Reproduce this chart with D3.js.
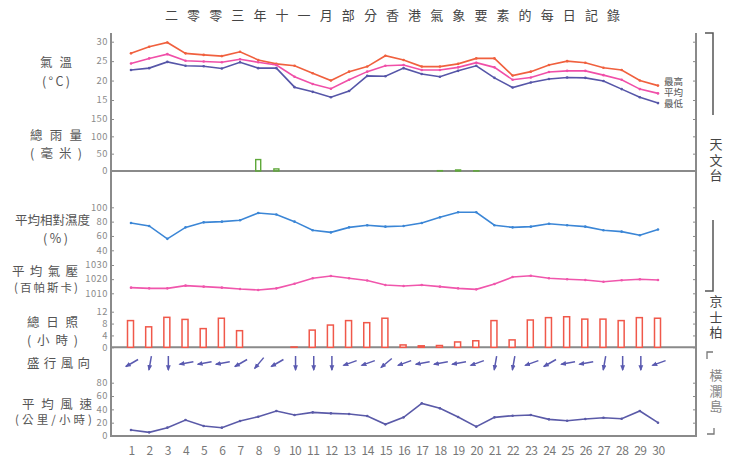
<!DOCTYPE html>
<html><head><meta charset="utf-8">
<script src="https://cdn.jsdelivr.net/npm/d3@7"></script>
<style>
html,body{margin:0;padding:0;background:#fff;}
svg{display:block;}
text{font-family:"Noto Sans CJK TC","Noto Sans",sans-serif;}
</style></head>
<body>
<div id="chart"></div>
<script>
// ---------------- DATA ----------------
const days = d3.range(1, 31);
const tempMax  = [27.0,28.7,29.8,27.0,26.6,26.3,27.4,25.3,24.3,23.8,21.9,20.0,22.3,23.6,26.4,25.3,23.6,23.6,24.3,25.7,25.7,21.3,22.3,24.0,25.0,24.6,23.3,22.7,20.0,18.7];
const tempMean = [24.4,25.7,26.8,25.1,24.9,24.7,25.5,24.7,24.0,21.0,19.1,17.9,20.2,22.3,23.8,24.0,22.7,22.7,23.4,24.6,23.4,20.2,20.8,22.2,22.5,22.5,21.4,20.2,17.8,16.7];
const tempMin  = [22.7,23.2,24.8,23.8,23.7,23.1,24.7,23.2,23.2,18.3,17.1,15.7,17.3,21.2,21.1,23.2,21.7,21.0,22.5,23.8,20.7,18.2,19.5,20.4,20.8,20.7,19.9,17.8,15.7,14.2];
const rainfall = [0,0,0,0,0,0,0,33,6,0,0,0,0,0,0,0,0,1,3,0.5,0,0,0,0,0,0,0,0,0,0];
const humidity = [78,74,56,72,79,80,82,92,90,80,68,65,72,75,73,74,78,86,93,93,75,72,73,77,75,73,68,66,61,69];
const pressure = [1014,1013.5,1013.5,1015.4,1014.7,1014,1013,1012.3,1013.5,1016.8,1020.6,1022.2,1020.6,1019,1015.9,1015.2,1015.9,1014.7,1013.5,1012.8,1016.6,1021.5,1022.4,1020.6,1019.9,1019.4,1018.2,1019.2,1019.9,1019.4];
const sunshine = [9.0,6.9,10.1,9.4,6.3,9.8,5.6,0,0,0.1,5.8,7.5,9.0,8.3,9.8,0.8,0.5,0.6,1.8,2.2,9.0,2.5,9.2,10.0,10.3,9.5,9.5,9.0,10.0,9.8];
const windDir  = [60,10,360,80,80,80,60,40,60,360,360,360,70,70,50,70,80,80,80,70,10,10,70,60,80,80,10,360,360,70];
const windSpeed= [9,5.5,12.5,24,15,12.5,22.5,29,37.5,31.5,35.5,34,33,30,17.5,28,49,41.5,28.5,14,28,30.5,31.5,25,23,25.5,27.5,26,37.5,20];

const tempTicks = [15,20,25,30];
const rainTicks = [0,50,100,150];
const humTicks  = [40,60,80,100];
const presTicks = [1010,1020,1030];
const sunTicks  = [0,4,8,12];
const windTicks = [0,20,40,60,80];

const title = "二零零三年十一月部分香港氣象要素的每日記錄";

// ---------------- LAYOUT ----------------
const W = 734, H = 464;
const svg = d3.select("#chart").append("svg").attr("width", W).attr("height", H);

const xL = 111, xR = 696, yTop = 33, yBot = 437;
const x = d3.scaleLinear().domain([1, 30]).range([131, 658]);

const yTemp = d3.scaleLinear().domain([15, 30]).range([100, 41.7]);
const yRain = d3.scaleLinear().domain([0, 150]).range([171, 119]);
const yHum  = d3.scaleLinear().domain([40, 100]).range([250.3, 207.3]);
const yPres = d3.scaleLinear().domain([1010, 1030]).range([293.3, 265]);
const ySun  = d3.scaleLinear().domain([0, 12]).range([347.3, 311.7]);
const yWind = d3.scaleLinear().domain([0, 80]).range([436, 382.7]);

const axisCol = "#8a8a8a";
const tickCol = "#8a8a8a";

// title
svg.append("text").attr("x", 165).attr("y", 20)
  .attr("textLength", 455).attr("lengthAdjust", "spacing")
  .attr("font-size", 13).attr("fill", "#444").text(title);

// frame axes
svg.append("line").attr("x1", xL).attr("x2", xL).attr("y1", yTop).attr("y2", yBot)
  .attr("stroke", axisCol).attr("stroke-width", 2);
svg.append("line").attr("x1", xR).attr("x2", xR).attr("y1", yTop).attr("y2", yBot)
  .attr("stroke", axisCol).attr("stroke-width", 2);
[yRain(0), ySun(0), yWind(0)].forEach(yy => {
  svg.append("line").attr("x1", xL).attr("x2", xR).attr("y1", yy).attr("y2", yy)
    .attr("stroke", axisCol).attr("stroke-width", 2);
});

// axes with d3
function leftAxis(scale, ticks) {
  const g = svg.append("g").attr("transform", `translate(${xL},0)`)
    .call(d3.axisRight(scale).tickValues(ticks).tickSize(3).tickFormat(""));
  g.select(".domain").remove();
  g.selectAll("line").attr("stroke", tickCol);
  ticks.forEach(t => {
    svg.append("text").attr("x", 108).attr("y", scale(t)).attr("dy", "0.35em")
      .attr("text-anchor", "end").attr("font-size", 9.4).attr("fill", "#8a8a8a")
      .attr("font-family", "DejaVu Sans").attr("letter-spacing", 0.5).text(t);
  });
  const g2 = svg.append("g").attr("transform", `translate(${xR},0)`)
    .call(d3.axisLeft(scale).tickValues(ticks).tickSize(3).tickFormat(""));
  g2.select(".domain").remove();
  g2.selectAll("line").attr("stroke", tickCol);
}
leftAxis(yTemp, tempTicks);
leftAxis(yRain, rainTicks);
leftAxis(yHum, humTicks);
leftAxis(yPres, presTicks);
leftAxis(ySun, sunTicks);
leftAxis(yWind, windTicks);

// day labels
const xg = svg.append("g").attr("transform", `translate(0,${yBot})`)
  .call(d3.axisBottom(x).tickValues(days).tickSize(0).tickPadding(9).tickFormat(d3.format("d")));
xg.select(".domain").remove();
xg.selectAll("text").attr("font-size", 12).attr("fill", "#777")
  .attr("font-family", "DejaVu Sans").attr("letter-spacing", -0.5);

// helper for lines
function drawLine(data, yScale, color) {
  const line = d3.line().x((d, i) => x(days[i])).y(d => yScale(d));
  svg.append("path").datum(data).attr("d", line).attr("fill", "none")
    .attr("stroke", color).attr("stroke-width", 1.6);
  svg.append("g").selectAll("circle").data(data).join("circle")
    .attr("cx", (d, i) => x(days[i])).attr("cy", d => yScale(d)).attr("r", 1.3).attr("fill", color);
}
drawLine(tempMax, yTemp, "#f0603e");
drawLine(tempMean, yTemp, "#f04fa8");
drawLine(tempMin, yTemp, "#5656a8");
drawLine(humidity, yHum, "#3b86d6");
drawLine(pressure, yPres, "#f056ac");
drawLine(windSpeed, yWind, "#5a5aa8");

// rain bars (open)
svg.append("g").selectAll("rect").data(rainfall.map((v, i) => ({v, d: days[i]}))).join("rect")
  .filter(o => o.v > 0)
  .attr("x", o => x(o.d) - 2.5)
  .attr("y", o => yRain(o.v))
  .attr("width", 5)
  .attr("height", o => yRain(0) - yRain(o.v))
  .attr("fill", "none").attr("stroke", "#5fa83a").attr("stroke-width", 1.4);

// sunshine bars (open)
svg.append("g").selectAll("rect").data(sunshine.map((v, i) => ({v, d: days[i]}))).join("rect")
  .filter(o => o.v > 0)
  .attr("x", o => x(o.d) - 3.5)
  .attr("y", o => ySun(o.v))
  .attr("width", 6)
  .attr("height", o => ySun(0) - ySun(o.v))
  .attr("fill", "#fff").attr("stroke", "#f0584a").attr("stroke-width", 1.5);

// wind direction arrows
const arrowY = 363, aLen = 14;
svg.append("defs").append("marker").attr("id", "ah").attr("viewBox", "0 0 10 10")
  .attr("refX", 8).attr("refY", 5).attr("markerWidth", 6).attr("markerHeight", 6)
  .attr("orient", "auto").attr("markerUnits", "userSpaceOnUse")
  .append("path").attr("d", "M0,1 L10,5 L0,9 z").attr("fill", "#5a5ab0");
windDir.forEach((deg, i) => {
  const r = deg * Math.PI / 180;
  const dx = -Math.sin(r), dy = Math.cos(r);
  const cx = x(days[i]) + 1, cy = arrowY;
  svg.append("line")
    .attr("x1", cx - dx * aLen / 2).attr("y1", cy - dy * aLen / 2)
    .attr("x2", cx + dx * aLen / 2).attr("y2", cy + dy * aLen / 2)
    .attr("stroke", "#5a5ab0").attr("stroke-width", 1.5).attr("marker-end", "url(#ah)");
});

// left labels
function spread(txt, x0, x1, yc, fs, col) {
  svg.append("text").attr("x", x0).attr("y", yc).attr("dy", "0.36em")
    .attr("textLength", x1 - x0).attr("lengthAdjust", "spacing")
    .attr("font-size", fs).attr("fill", col || "#555").text(txt);
}
spread("氣溫", 40, 72, 62, 12.5);
spread("(°C)", 42, 70, 81, 12.5);
spread("總雨量", 30, 82, 135, 12.5);
spread("(毫米)", 30, 82, 153, 12.5);
spread("平均相對濕度", 15, 90, 220, 12.5);
spread("(%)", 43, 68, 238, 12.5);
spread("平均氣壓", 12, 78, 271.5, 12.5);
spread("(百帕斯卡)", 14, 78, 288, 11.5);
spread("總日照", 27, 78, 322.5, 12.5);
spread("(小時)", 27, 78, 340, 12.5);
spread("盛行風向", 27, 90, 363, 12.5);
spread("平均風速", 22, 92, 404.5, 12.5);
spread("(公里/小時)", 15, 92, 420, 11.5);

// temperature legend (one text block, three lines)
const leg = svg.append("text").attr("font-size", 9.5).attr("fill", "#555");
[["最高", 81.5], ["平均", 92.5], ["最低", 103.5]].forEach(([t, yy]) => {
  leg.append("tspan").attr("x", 664).attr("y", yy + 3.4).text(t);
});

// station brackets
const bc = "#555";
function pathD(d, col, w) { svg.append("path").attr("d", d).attr("fill", "none").attr("stroke", col || bc).attr("stroke-width", w || 1.5); }
pathD("M705,33 L713,33 L713,115");
pathD("M713,220 L713,291 L705,291");
pathD("M713,352 L707,352 L707,359", "#777", 1.3);
pathD("M714,428 L714,434 L707,434", "#777", 1.3);
function vtext(str, xc, yTopText, col, fs) {
  svg.append("text").attr("x", xc).attr("y", yTopText)
    .attr("writing-mode", "vertical-rl").style("writing-mode", "vertical-rl")
    .attr("letter-spacing", 2.5).attr("font-size", fs).attr("fill", col).text(str);
}
vtext("天文台", 716, 138, "#444", 13);
vtext("京士柏", 716, 295, "#444", 13);
vtext("橫瀾島", 716, 369, "#888", 13);
</script>
</body></html>
